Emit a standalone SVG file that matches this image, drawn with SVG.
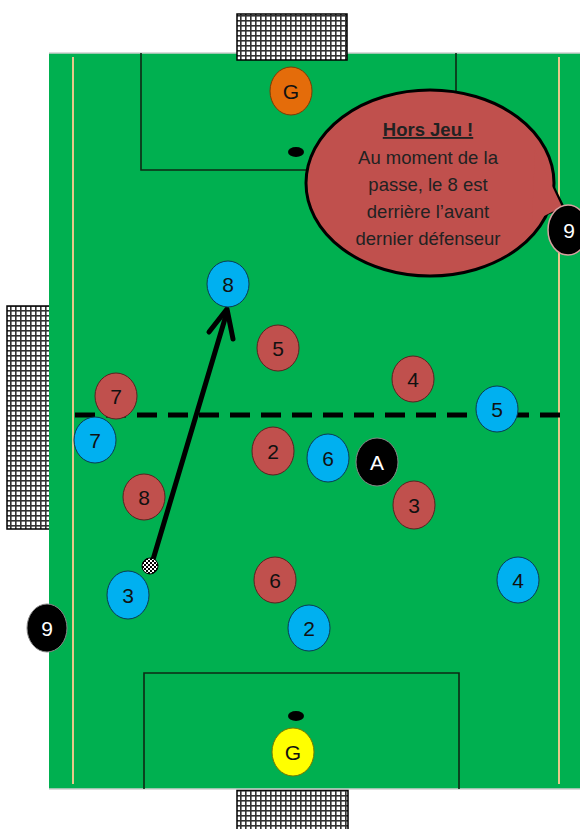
<svg xmlns="http://www.w3.org/2000/svg" width="580" height="829" viewBox="0 0 580 829">
<defs>
<pattern id="net" width="5" height="5" patternUnits="userSpaceOnUse">
<rect width="5" height="5" fill="#ffffff"/>
<rect x="0" y="0" width="1.6" height="5" fill="#333"/>
<rect x="0" y="0" width="5" height="1.6" fill="#333"/>
</pattern>
<pattern id="checker" width="4" height="4" patternUnits="userSpaceOnUse">
<rect width="4" height="4" fill="#fff"/>
<rect width="2" height="2" fill="#000"/>
<rect x="2" y="2" width="2" height="2" fill="#000"/>
</pattern>
<style>
.net{fill:url(#net);stroke:#000;stroke-width:1.5}
.side{stroke:#e6c88a;stroke-width:2}
.box{fill:none;stroke:#0d2a14;stroke-width:1.6}
.red{fill:#c0504d;stroke:#5a2020;stroke-width:1}
.blue{fill:#00b0f0;stroke:#0b3a55;stroke-width:1}
.blk{fill:#000;stroke:#888;stroke-width:1}
.num{font-family:"Liberation Sans",Arial,sans-serif;font-size:21px;text-anchor:middle;fill:#111}
.wnum{font-family:"Liberation Sans",Arial,sans-serif;font-size:21px;text-anchor:middle;fill:#fff}
.bub{font-family:"Liberation Sans",Arial,sans-serif;font-size:18.5px;text-anchor:middle;fill:#222}
</style>
</defs>
<rect width="580" height="829" fill="#fff"/>
<!-- goals -->
<rect class="net" x="7" y="306" width="44" height="223"/>
<rect class="net" x="237" y="790" width="111" height="40"/>
<!-- pitch -->
<rect x="49" y="53" width="531" height="736" fill="#00b050"/>
<line x1="49" y1="53" x2="580" y2="53" stroke="#cfcfcf" stroke-width="1.5"/>
<line x1="49" y1="789" x2="580" y2="789" stroke="#cfcfcf" stroke-width="1.5"/>
<rect class="net" x="237" y="14" width="110" height="46"/>
<line class="side" x1="73" y1="57" x2="73" y2="784"/>
<line class="side" x1="559" y1="57" x2="559" y2="784"/>
<polyline class="box" points="141,53 141,170 456,170 456,53"/>
<polyline class="box" points="144,789 144,673 459,673 459,789"/>
<ellipse cx="296" cy="152" rx="8" ry="5" fill="#000"/>
<ellipse cx="296" cy="716" rx="8" ry="5" fill="#000"/>
<line x1="75" y1="415" x2="560" y2="415" stroke="#000" stroke-width="5" stroke-dasharray="20,11"/>
<!-- speech bubble -->
<g id="bubble">
<path d="M 540,160 L 563,207 L 538,217 Z" fill="#c0504d" stroke="#000" stroke-width="3" stroke-linejoin="round"/>
<ellipse cx="430" cy="183" rx="124" ry="93" fill="#c0504d" stroke="#000" stroke-width="3"/>
<path d="M 535,150 L 562,207 L 532,222 Z" fill="#c0504d"/>
<text class="bub" x="428" y="136" font-weight="bold" text-decoration="underline">Hors Jeu !</text>
<text class="bub" x="428" y="164">Au moment de la</text>
<text class="bub" x="428" y="191">passe, le 8 est</text>
<text class="bub" x="428" y="218">derrière l’avant</text>
<text class="bub" x="428" y="245">dernier défenseur</text>
</g>
<!-- connectors -->
<g id="connectors">
<line x1="152" y1="563" x2="227" y2="312" stroke="#000" stroke-width="5" stroke-linecap="round"/>
<polyline points="209,332 227,309 233,339" fill="none" stroke="#000" stroke-width="5" stroke-linecap="round" stroke-linejoin="round"/>
</g>
<g id="ball"><circle cx="150" cy="566" r="8" fill="url(#checker)" stroke="#000" stroke-width="1"/></g>
<!-- players -->
<g id="gk-top"><ellipse cx="291" cy="91" rx="21" ry="24" fill="#e46c0a" stroke="#7a3a05" stroke-width="1"/><text class="num" x="291" y="99">G</text></g>
<g id="gk-bottom"><ellipse cx="293" cy="752" rx="21" ry="24" fill="#ffff00" stroke="#777700" stroke-width="1"/><text class="num" x="293" y="760">G</text></g>
<g id="blue8"><ellipse class="blue" cx="228" cy="284" rx="21" ry="23"/><text class="num" x="228" y="292">8</text></g>
<g id="red5"><ellipse class="red" cx="278" cy="348" rx="21" ry="23"/><text class="num" x="278" y="356">5</text></g>
<g id="red4"><ellipse class="red" cx="413" cy="379" rx="21" ry="23"/><text class="num" x="413" y="387">4</text></g>
<g id="red7"><ellipse class="red" cx="116" cy="396" rx="21" ry="23"/><text class="num" x="116" y="404">7</text></g>
<g id="blue5"><ellipse class="blue" cx="497" cy="409" rx="21" ry="23"/><text class="num" x="497" y="417">5</text></g>
<g id="blue7"><ellipse class="blue" cx="95" cy="440" rx="21" ry="23"/><text class="num" x="95" y="448">7</text></g>
<g id="red2"><ellipse class="red" cx="273" cy="451" rx="21" ry="24"/><text class="num" x="273" y="459">2</text></g>
<g id="blue6"><ellipse class="blue" cx="328" cy="458" rx="21" ry="24"/><text class="num" x="328" y="466">6</text></g>
<g id="A"><ellipse class="blk" cx="377" cy="462" rx="21" ry="24"/><text class="wnum" x="377" y="470">A</text></g>
<g id="red8"><ellipse class="red" cx="144" cy="497" rx="21" ry="23"/><text class="num" x="144" y="505">8</text></g>
<g id="red3"><ellipse class="red" cx="414" cy="505" rx="21" ry="24"/><text class="num" x="414" y="513">3</text></g>
<g id="red6"><ellipse class="red" cx="275" cy="580" rx="21" ry="23"/><text class="num" x="275" y="588">6</text></g>
<g id="blue4"><ellipse class="blue" cx="518" cy="580" rx="21" ry="23"/><text class="num" x="518" y="588">4</text></g>
<g id="blue3"><ellipse class="blue" cx="128" cy="595" rx="21" ry="24"/><text class="num" x="128" y="603">3</text></g>
<g id="blue2"><ellipse class="blue" cx="309" cy="628" rx="21" ry="23"/><text class="num" x="309" y="636">2</text></g>
<g id="black9-left"><ellipse class="blk" cx="47" cy="628" rx="20" ry="24" stroke="#b0b8c8" stroke-width="1.5"/><text class="wnum" x="47" y="636" fill="#dfe8ff">9</text></g>
<g id="black9-right"><ellipse cx="568" cy="230" rx="20" ry="25" fill="#000" stroke="#d8a0a0" stroke-width="1.5"/><text class="wnum" x="569" y="238">9</text></g>
</svg>
